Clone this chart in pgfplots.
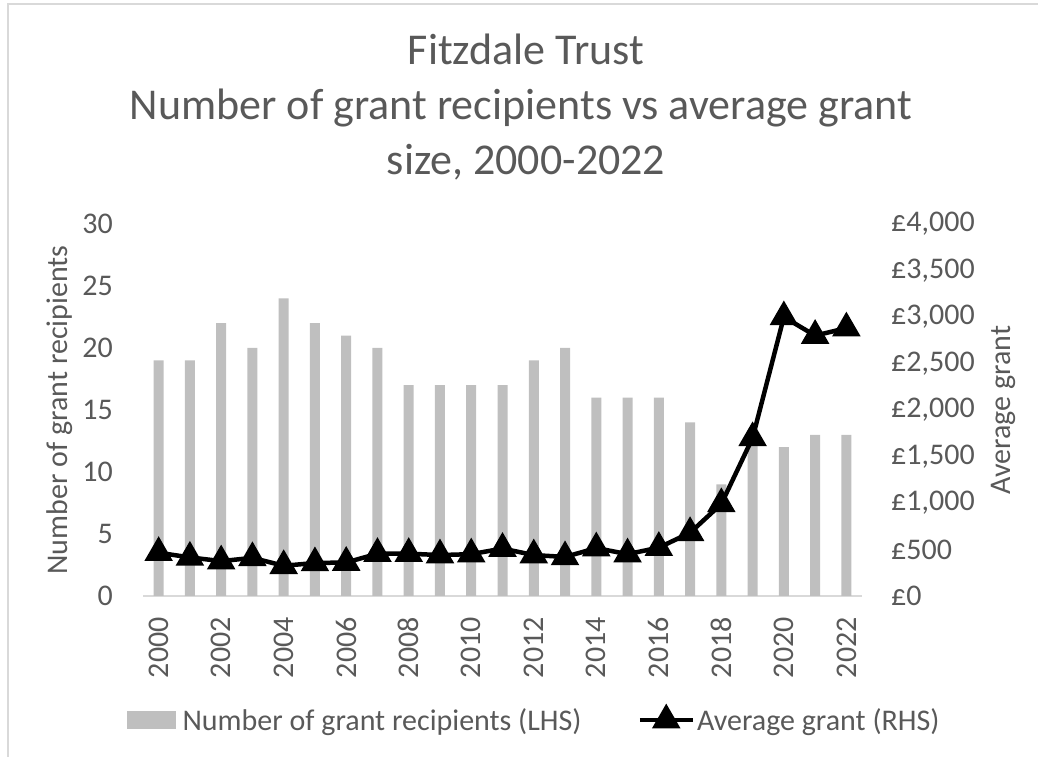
\documentclass[border=0pt]{standalone}
\usepackage{fontspec}
\setmainfont{Carlito}
\usepackage{pgfplots}
\pgfplotsset{compat=1.18}
\definecolor{bargray}{HTML}{BFBFBF}
\definecolor{txtgray}{HTML}{595959}
\definecolor{axgray}{HTML}{D9D9D9}
\newcommand\labfont{\fontsize{30bp}{36bp}\selectfont}
\newcommand\titlefont{\fontsize{44bp}{55bp}\selectfont}
\begin{document}
\begin{tikzpicture}[x=1bp,y=1bp]
\useasboundingbox (0,0) rectangle (1038,757);
\draw[axgray, line width=1.3bp] (8,0) -- (8,753) -- (1038,753);
\node[anchor=base, text=txtgray, font=\titlefont, inner sep=0] at (526,692) {Fitzdale Trust};
\node[anchor=base, text=txtgray, font=\titlefont, inner sep=0] at (521,637) {Number of grant recipients vs average grant};
\node[anchor=base, text=txtgray, font=\titlefont, inner sep=0] at (526,582) {size, 2000-2022};
\node[rotate=90, anchor=base, text=txtgray, font=\labfont, inner sep=0] at (67.5,347) {Number of grant recipients};
\node[rotate=90, anchor=base, text=txtgray, font=\labfont, inner sep=0] at (1010,347) {Average grant};

\begin{axis}[
  at={(143bp,161bp)}, anchor=south west,
  scale only axis, width=719bp, height=372bp,
  xmin=-0.5, xmax=22.5, ymin=0, ymax=30,
  axis x line*=bottom, axis y line*=left,
  x axis line style={draw=axgray, line width=1.3bp},
  y axis line style={draw=none},
  xtick={0,2,4,6,8,10,12,14,16,18,20,22},
  xticklabels={2000,2002,2004,2006,2008,2010,2012,2014,2016,2018,2020,2022},
  ytick={0,5,10,15,20,25,30}, yticklabels={0,5,10,15,20,25,30},
  major tick length=0pt, tick style={draw=none},
  xticklabel style={rotate=90, anchor=east, inner sep=0pt, font=\labfont, text=txtgray},
  yticklabel style={anchor=east, inner sep=0pt, font=\labfont, text=txtgray},
  xticklabel shift=21bp, yticklabel shift=30bp,
  clip=false,
]
\addplot[ybar, bar width=10bp, fill=bargray, draw=none] coordinates {
(0,19) (1,19) (2,22) (3,20) (4,24) (5,22) (6,21) (7,20) (8,17) (9,17) (10,17) (11,17)
(12,19) (13,20) (14,16) (15,16) (16,16) (17,14) (18,9) (19,13) (20,12) (21,13) (22,13)};
\end{axis}

\begin{axis}[
  at={(143bp,161bp)}, anchor=south west,
  scale only axis, width=719bp, height=372bp,
  xmin=-0.5, xmax=22.5, ymin=0, ymax=4000,
  axis x line=none, axis y line*=right,
  y axis line style={draw=none},
  scaled y ticks=false,
  ytick={0,500,1000,1500,2000,2500,3000,3500,4000},
  yticklabels={{£0},{£500},{£1,000},{£1,500},{£2,000},{£2,500},{£3,000},{£3,500},{£4,000}},
  major tick length=0pt, tick style={draw=none},
  yticklabel style={anchor=west, inner sep=0pt, font=\labfont, text=txtgray},
  yticklabel shift=29bp,
  clip=false,
  legend columns=2,
  legend cell align=left,
  legend style={at={(-0.02225,-0.3333)}, anchor=west, draw=none, fill=none,
    inner sep=0pt, font=\labfont, text=txtgray, nodes={inner sep=0pt},
    /tikz/column 1/.style={column sep=7bp},
    /tikz/column 2/.style={column sep=56bp},
    /tikz/column 3/.style={column sep=2bp}},
]
\addlegendimage{legend image code/.code={\fill[bargray] (0bp,-8.5bp) rectangle (48bp,8.5bp);}}
\addlegendentry{Number of grant recipients (LHS)}
\addplot[black, line width=4.5bp, mark=triangle*, mark size=12bp, mark options={solid},
  legend image code/.code={\draw[black, line width=4.5bp, mark=triangle*, mark size=12bp, mark repeat=2, mark phase=2] plot coordinates {(0bp,0bp) (26.5bp,0bp) (53bp,0bp)};}]
coordinates {
(0,465) (1,415) (2,375) (3,410) (4,325) (5,355) (6,360) (7,455) (8,455) (9,440) (10,450) (11,510)
(12,440) (13,420) (14,515) (15,450) (16,520) (17,680) (18,990) (19,1700) (20,3000) (21,2800) (22,2880)};
\addlegendentry{Average grant (RHS)}
\end{axis}
\end{tikzpicture}
\end{document}
